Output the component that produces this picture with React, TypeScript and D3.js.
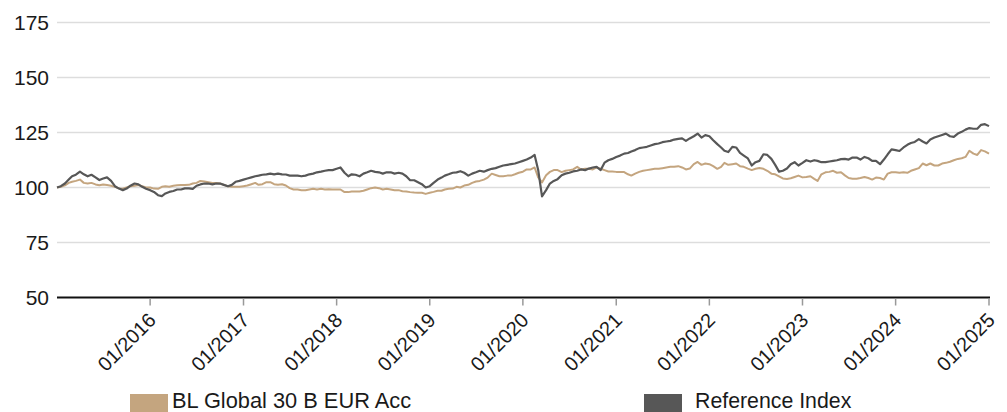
import { useMemo } from "react";
import * as d3 from "d3";
import React from "react";

const WIDTH = 1007;
const HEIGHT = 412;
const MARGIN = { top: 22.5, right: 17, bottom: 114.5, left: 57 };
const FONT = "'Liberation Sans', Arial, Helvetica, sans-serif";

const FUND_NAME = "BL Global 30 B EUR Acc";
const INDEX_NAME = "Reference Index";
const FUND_COLOR = "#c4a57f";
const INDEX_COLOR = "#575757";

const Y_TICKS = [50, 75, 100, 125, 150, 175];
const X_TICK_YEARS = [2016, 2017, 2018, 2019, 2020, 2021, 2022, 2023, 2024, 2025];

// semi-monthly readings (1st and 16th of each month), Jan 2015 -> Jan 2025
const fundValues = [
  100.0, 100.3, 101.0, 102.1, 102.6, 103.0, 103.6, 102.1, 101.8, 102.1, 101.4, 101.0, 101.4, 101.1, 100.8, 100.3,
  99.6, 99.4, 100.0, 100.6, 100.8, 101.1, 100.6, 100.0, 100.0, 99.5, 99.4, 100.3, 100.6, 100.3, 100.8, 101.0,
  101.1, 101.1, 101.2, 101.8, 102.1, 103.0, 102.7, 102.4, 102.1,
  102.1, 101.8, 101.2, 100.6, 100.3, 100.3, 100.3, 100.6, 100.9, 101.5, 102.1, 101.2, 101.5, 102.4, 102.4, 101.5,
  101.2, 101.5, 100.9, 99.7, 99.1, 99.1, 98.8, 98.8, 99.1, 99.4, 99.1, 99.4, 99.1, 99.2, 99.1, 99.1, 99.1, 97.9,
  97.9, 98.2, 98.2, 98.2, 98.5, 99.1, 99.7,
  100.0, 99.7, 99.1, 99.4, 99.1, 98.8, 98.8, 98.3, 98.2, 97.9, 97.7, 97.6, 97.6, 97.1, 97.6, 98.0, 98.5, 98.5,
  99.1, 99.4, 99.5, 100.3, 100.0, 100.9, 101.2, 102.1, 102.7, 103.0, 103.6, 104.5, 106.3, 105.7, 105.1, 105.1,
  105.4, 105.4, 106.0, 106.7, 107.2, 108.2,
  108.2, 109.1, 104.6, 102.3, 105.6, 107.1, 107.9, 107.9, 107.0, 107.6, 107.9, 108.2, 109.4, 108.2, 108.5, 108.5,
  108.2, 109.1, 108.5, 107.9, 107.3, 107.3, 107.1, 107.1, 107.0, 106.0, 105.4, 106.3, 107.1, 107.6, 107.9, 108.2,
  108.5, 108.5, 108.8, 109.1, 109.4, 109.4, 109.7, 109.1, 108.2,
  108.6, 110.6, 111.6, 110.3, 110.9, 110.6, 109.7, 108.5, 109.4, 111.2, 110.3, 110.6, 110.9, 109.7, 109.4, 108.6,
  107.9, 108.5, 108.9, 108.5, 107.6, 106.3, 106.0, 105.1, 104.1, 103.9, 104.2, 104.8, 105.4, 104.6, 104.8, 105.1,
  103.9, 103.0, 106.0, 106.9, 107.1, 107.6, 106.7, 106.9,
  105.5, 104.3, 104.0, 104.0, 104.3, 104.8, 104.3, 103.6, 104.5, 104.3, 103.6, 106.3, 106.9, 106.9, 106.7, 106.9,
  106.7, 107.6, 108.2, 108.8, 110.9, 110.1, 110.9, 110.0, 110.0, 110.9, 111.2, 111.7, 112.4, 113.0, 113.3, 113.9,
  116.7, 115.4, 114.8, 117.0, 116.4, 115.4,
];

const indexValues = [
  100.0, 100.6, 101.8, 103.6, 105.1, 105.8, 107.2, 106.0, 105.1, 105.8, 104.6, 103.4, 104.1, 104.6, 103.0, 100.6,
  99.5, 98.8, 99.5, 100.8, 101.8, 101.4, 100.3, 99.4, 98.8, 98.0, 96.5, 96.1, 97.3, 98.0, 98.4, 99.1, 99.1, 99.6,
  99.6, 99.4, 100.8, 101.4, 101.8, 101.8, 101.4,
  101.8, 101.8, 101.2, 100.6, 101.2, 102.6, 103.0, 103.6, 104.1, 104.6, 105.1, 105.4, 105.8, 106.0, 106.3, 106.0,
  106.3, 106.0, 105.9, 105.4, 105.4, 105.4, 105.1, 105.4, 106.0, 106.3, 106.9, 107.2, 107.6, 107.9, 107.9, 108.5,
  109.1, 106.7, 105.1, 106.0, 105.8, 105.1, 106.3, 106.9, 107.6,
  107.1, 106.9, 106.3, 106.9, 106.9, 106.3, 106.7, 106.3, 105.1, 103.3, 103.3, 102.4, 101.5, 100.0, 100.6, 102.1,
  103.6, 104.5, 105.4, 106.0, 106.7, 106.9, 107.4, 106.7, 105.4, 106.3, 106.9, 107.6, 107.2, 107.9, 108.5, 108.8,
  109.4, 110.0, 110.3, 110.6, 110.9, 111.5, 112.1, 112.7,
  113.6, 114.8, 108.0, 96.0, 98.8, 101.8, 103.0, 103.8, 105.6, 106.3, 106.7, 107.3, 107.6, 108.2, 107.9, 108.6,
  109.1, 109.4, 107.9, 111.3, 112.4, 113.0, 113.9, 114.5, 115.4, 115.7, 116.4, 117.0, 117.9, 118.2, 118.5, 119.1,
  119.7, 120.0, 120.6, 120.9, 121.2, 121.8, 122.1, 122.3, 121.2,
  122.3, 123.3, 124.5, 122.7, 123.8, 123.3, 121.5, 119.7, 118.2, 116.7, 116.1, 118.5, 118.2, 115.7, 114.5, 113.2,
  110.0, 111.5, 112.1, 115.1, 114.8, 113.0, 110.3, 107.2, 107.6, 108.6, 110.6, 111.5, 110.0, 111.2, 112.4, 111.8,
  112.4, 112.1, 111.5, 111.5, 111.8, 112.1, 112.4, 112.9,
  113.0, 112.7, 113.6, 113.6, 112.7, 113.9, 113.3, 112.1, 112.1, 110.6, 112.7, 115.1, 117.3, 117.0, 116.6, 118.2,
  119.4, 120.2, 120.7, 122.0, 120.9, 120.0, 121.8, 122.7, 123.3, 123.9, 124.5, 123.3, 123.0, 124.5, 125.3, 126.3,
  127.0, 126.7, 126.7, 128.5, 128.8, 127.9,
];

// observation dates: 1st and 16th of every month, plus 01/01/2025
const buildDates = () => {
  const out: Date[] = [];
  d3.utcMonth.range(new Date(Date.UTC(2015, 0, 1)), new Date(Date.UTC(2025, 0, 1))).forEach((m) => {
    out.push(m);
    out.push(new Date(Date.UTC(m.getUTCFullYear(), m.getUTCMonth(), 16)));
  });
  out.push(new Date(Date.UTC(2025, 0, 1)));
  return out;
};

export const PerformanceChart = () => {
  const boundsWidth = WIDTH - MARGIN.left - MARGIN.right;
  const boundsHeight = HEIGHT - MARGIN.top - MARGIN.bottom;
  const dates = useMemo(buildDates, []);

  const xScale = useMemo(
    () =>
      d3
        .scaleUtc()
        .domain([new Date(Date.UTC(2015, 0, 1)), new Date(Date.UTC(2025, 0, 1))])
        .range([0, boundsWidth - 1]),
    [boundsWidth]
  );
  const yScale = useMemo(() => d3.scaleLinear().domain([50, 175]).range([boundsHeight, 0]), [boundsHeight]);

  const lineGen = d3
    .line<number>()
    .x((_, i) => xScale(dates[i]))
    .y((d) => yScale(d));

  const fmt = d3.utcFormat("%m/%Y");

  return (
    <svg width={WIDTH} height={HEIGHT} style={{ position: "absolute", left: 0, top: 0 }} fontFamily={FONT}>
      <g transform={`translate(${MARGIN.left},${MARGIN.top})`}>
        {Y_TICKS.map((t) => (
          <g key={t}>
            {t !== 50 && (
              <line x1={0} x2={boundsWidth} y1={yScale(t)} y2={yScale(t)} stroke="#dddddd" strokeWidth={1.6} />
            )}
            <text x={-8} y={yScale(t)} dy="0.36em" textAnchor="end" fontSize={21} fill="#1a1a1a">
              {t}
            </text>
          </g>
        ))}

        <path d={lineGen(fundValues) ?? ""} fill="none" stroke={FUND_COLOR} strokeWidth={2} strokeLinejoin="round" />
        <path d={lineGen(indexValues) ?? ""} fill="none" stroke={INDEX_COLOR} strokeWidth={2.2} strokeLinejoin="round" />

        <line x1={0} x2={boundsWidth} y1={boundsHeight} y2={boundsHeight} stroke="#111" strokeWidth={2} />
        {X_TICK_YEARS.map((yr) => {
          const d = new Date(Date.UTC(yr, 0, 1));
          const x = xScale(d);
          return (
            <g key={yr}>
              <line x1={x} x2={x} y1={boundsHeight + 1} y2={boundsHeight + 8} stroke="#999" strokeWidth={1.5} />
              <text
                transform={`translate(${x + 7},${boundsHeight + 24}) rotate(-45)`}
                textAnchor="end"
                fontSize={20}
                fill="#1a1a1a"
              >
                {fmt(d)}
              </text>
            </g>
          );
        })}
      </g>

      <g transform="translate(130,394)">
        <rect width={38} height={20} fill={FUND_COLOR} />
        <text x={42} y={13.5} fontSize={21.8} fill="#1a1a1a">
          {FUND_NAME}
        </text>
      </g>
      <g transform="translate(644,394)">
        <rect width={38} height={20} fill={INDEX_COLOR} />
        <text x={51} y={13.5} fontSize={21.3} fill="#1a1a1a">
          {INDEX_NAME}
        </text>
      </g>
    </svg>
  );
};

export default function App() {
  return <PerformanceChart />;
}
